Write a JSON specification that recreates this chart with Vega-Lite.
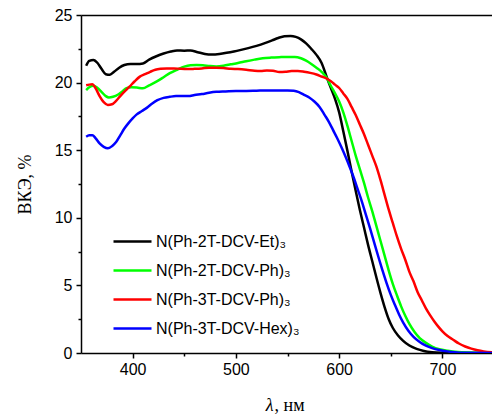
{
  "$schema": "https://vega.github.io/schema/vega-lite/v6.json",
  "width": 411,
  "height": 338,
  "autosize": {"type": "none"},
  "padding": {"left": 81, "top": 15, "right": 0, "bottom": 63},
  "background": "white",
  "config": {"view": {"stroke": null}},
  "datasets": {
    "Et": [{"x":355,"y":21.25},{"x":358,"y":21.6},{"x":362,"y":21.67},{"x":366,"y":21.45},{"x":370,"y":21.0},{"x":374,"y":20.62},{"x":378,"y":20.58},{"x":382,"y":20.8},{"x":387,"y":21.1},{"x":392,"y":21.3},{"x":398,"y":21.38},{"x":404,"y":21.38},{"x":410,"y":21.42},{"x":416,"y":21.7},{"x":423,"y":21.95},{"x":430,"y":22.15},{"x":437,"y":22.3},{"x":443,"y":22.38},{"x":450,"y":22.36},{"x":456,"y":22.38},{"x":463,"y":22.25},{"x":470,"y":22.12},{"x":477,"y":22.08},{"x":484,"y":22.12},{"x":491,"y":22.2},{"x":498,"y":22.3},{"x":505,"y":22.42},{"x":512,"y":22.55},{"x":520,"y":22.72},{"x":528,"y":22.92},{"x":535,"y":23.12},{"x":541,"y":23.3},{"x":547,"y":23.43},{"x":553,"y":23.45},{"x":558,"y":23.38},{"x":563,"y":23.2},{"x":568,"y":22.9},{"x":573,"y":22.5},{"x":578,"y":22.05},{"x":583,"y":21.45},{"x":588,"y":20.4},{"x":592,"y":19.6},{"x":596,"y":18.8},{"x":600,"y":17.8},{"x":604,"y":16.4},{"x":608,"y":14.95},{"x":612,"y":13.45},{"x":616,"y":12.0},{"x":620,"y":10.6},{"x":624,"y":9.3},{"x":628,"y":8.0},{"x":632,"y":6.8},{"x":636,"y":5.6},{"x":640,"y":4.45},{"x":644,"y":3.4},{"x":648,"y":2.5},{"x":652,"y":1.85},{"x":657,"y":1.3},{"x":662,"y":0.9},{"x":668,"y":0.55},{"x":675,"y":0.3},{"x":682,"y":0.15},{"x":690,"y":0.06},{"x":700,"y":0.02},{"x":720,"y":0.0},{"x":748,"y":0.0}],
    "Ph2": [{"x":355,"y":19.45},{"x":358,"y":19.65},{"x":362,"y":19.77},{"x":366,"y":19.6},{"x":370,"y":19.3},{"x":374,"y":19.0},{"x":377,"y":18.9},{"x":381,"y":18.95},{"x":386,"y":19.12},{"x":390,"y":19.35},{"x":394,"y":19.58},{"x":399,"y":19.65},{"x":404,"y":19.63},{"x":410,"y":19.58},{"x":416,"y":19.8},{"x":423,"y":20.07},{"x":430,"y":20.4},{"x":436,"y":20.7},{"x":443,"y":20.95},{"x":450,"y":21.18},{"x":456,"y":21.28},{"x":462,"y":21.3},{"x":468,"y":21.28},{"x":475,"y":21.22},{"x":481,"y":21.2},{"x":488,"y":21.25},{"x":495,"y":21.35},{"x":502,"y":21.45},{"x":510,"y":21.58},{"x":518,"y":21.7},{"x":526,"y":21.8},{"x":534,"y":21.85},{"x":542,"y":21.88},{"x":550,"y":21.9},{"x":557,"y":21.9},{"x":563,"y":21.8},{"x":568,"y":21.62},{"x":573,"y":21.38},{"x":578,"y":21.1},{"x":583,"y":20.8},{"x":588,"y":20.35},{"x":592,"y":19.75},{"x":596,"y":19.2},{"x":600,"y":18.6},{"x":604,"y":17.8},{"x":608,"y":16.8},{"x":612,"y":15.7},{"x":616,"y":14.6},{"x":620,"y":13.6},{"x":624,"y":12.6},{"x":628,"y":11.5},{"x":632,"y":10.5},{"x":636,"y":9.4},{"x":640,"y":8.3},{"x":644,"y":7.2},{"x":648,"y":6.1},{"x":652,"y":5.1},{"x":656,"y":4.25},{"x":660,"y":3.45},{"x":664,"y":2.75},{"x":668,"y":2.15},{"x":673,"y":1.55},{"x":678,"y":1.1},{"x":684,"y":0.75},{"x":690,"y":0.48},{"x":697,"y":0.28},{"x":705,"y":0.17},{"x":715,"y":0.08},{"x":725,"y":0.04},{"x":735,"y":0.02},{"x":748,"y":0.0}],
    "Ph3": [{"x":355,"y":19.8},{"x":358,"y":19.85},{"x":361,"y":19.87},{"x":364,"y":19.6},{"x":368,"y":19.0},{"x":372,"y":18.55},{"x":376,"y":18.35},{"x":380,"y":18.4},{"x":384,"y":18.65},{"x":388,"y":19.0},{"x":393,"y":19.4},{"x":397,"y":19.7},{"x":402,"y":20.1},{"x":407,"y":20.44},{"x":412,"y":20.62},{"x":417,"y":20.8},{"x":422,"y":20.95},{"x":427,"y":21.02},{"x":433,"y":21.05},{"x":440,"y":21.05},{"x":446,"y":21.02},{"x":453,"y":21.0},{"x":460,"y":21.02},{"x":467,"y":21.05},{"x":474,"y":21.1},{"x":481,"y":21.1},{"x":488,"y":21.08},{"x":495,"y":21.02},{"x":502,"y":21.0},{"x":510,"y":20.95},{"x":518,"y":20.88},{"x":524,"y":20.86},{"x":530,"y":20.9},{"x":536,"y":20.88},{"x":542,"y":20.78},{"x":548,"y":20.8},{"x":554,"y":20.85},{"x":560,"y":20.85},{"x":566,"y":20.8},{"x":572,"y":20.72},{"x":578,"y":20.6},{"x":583,"y":20.45},{"x":588,"y":20.3},{"x":592,"y":20.1},{"x":596,"y":19.85},{"x":600,"y":19.6},{"x":604,"y":19.2},{"x":608,"y":18.8},{"x":612,"y":18.2},{"x":616,"y":17.6},{"x":620,"y":16.9},{"x":624,"y":16.2},{"x":628,"y":15.4},{"x":632,"y":14.6},{"x":636,"y":13.8},{"x":640,"y":12.8},{"x":644,"y":11.7},{"x":648,"y":10.6},{"x":652,"y":9.6},{"x":656,"y":8.6},{"x":660,"y":7.7},{"x":664,"y":6.9},{"x":668,"y":6.0},{"x":672,"y":5.3},{"x":676,"y":4.5},{"x":680,"y":3.9},{"x":684,"y":3.3},{"x":688,"y":2.8},{"x":692,"y":2.35},{"x":696,"y":1.95},{"x":700,"y":1.6},{"x":705,"y":1.25},{"x":710,"y":1.0},{"x":716,"y":0.7},{"x":722,"y":0.48},{"x":728,"y":0.32},{"x":734,"y":0.2},{"x":740,"y":0.12},{"x":748,"y":0.06}],
    "Hex": [{"x":355,"y":16.0},{"x":358,"y":16.1},{"x":361,"y":16.1},{"x":364,"y":15.9},{"x":368,"y":15.5},{"x":372,"y":15.25},{"x":376,"y":15.14},{"x":380,"y":15.3},{"x":384,"y":15.6},{"x":388,"y":16.1},{"x":392,"y":16.6},{"x":396,"y":17.0},{"x":400,"y":17.35},{"x":404,"y":17.65},{"x":409,"y":17.9},{"x":414,"y":18.15},{"x":419,"y":18.45},{"x":424,"y":18.7},{"x":430,"y":18.87},{"x":436,"y":18.95},{"x":442,"y":19.0},{"x":448,"y":19.0},{"x":454,"y":19.0},{"x":460,"y":19.08},{"x":467,"y":19.15},{"x":474,"y":19.25},{"x":481,"y":19.32},{"x":490,"y":19.35},{"x":500,"y":19.38},{"x":510,"y":19.38},{"x":520,"y":19.4},{"x":530,"y":19.42},{"x":540,"y":19.42},{"x":550,"y":19.42},{"x":556,"y":19.4},{"x":561,"y":19.3},{"x":566,"y":19.1},{"x":571,"y":18.9},{"x":576,"y":18.6},{"x":581,"y":18.2},{"x":586,"y":17.6},{"x":590,"y":17.1},{"x":594,"y":16.5},{"x":598,"y":15.9},{"x":602,"y":15.25},{"x":606,"y":14.55},{"x":610,"y":13.8},{"x":614,"y":13.0},{"x":618,"y":12.1},{"x":622,"y":11.2},{"x":626,"y":10.2},{"x":630,"y":9.2},{"x":634,"y":8.15},{"x":638,"y":7.1},{"x":642,"y":6.1},{"x":646,"y":5.15},{"x":650,"y":4.3},{"x":654,"y":3.55},{"x":658,"y":2.85},{"x":662,"y":2.25},{"x":667,"y":1.65},{"x":672,"y":1.2},{"x":678,"y":0.82},{"x":684,"y":0.55},{"x":690,"y":0.36},{"x":697,"y":0.22},{"x":705,"y":0.12},{"x":712,"y":0.06},{"x":720,"y":0.02},{"x":748,"y":0.0}]
  },
  "layer": [
    {
      "data": {"name": "Et"},
      "mark": {"type": "line", "strokeWidth": 2.5, "clip": true, "interpolate": "monotone"},
      "encoding": {
        "x": {"field": "x", "type": "quantitative", "scale": {"domain": [350, 748], "nice": false, "zero": false},
          "axis": {"orient": "bottom", "values": [400, 450, 500, 550, 600, 650, 700], "labelExpr": "datum.value % 100 === 0 ? datum.label : ''",
            "tickSize": {"condition": {"test": "datum.value % 100 === 0", "value": 5}, "value": 3},
            "grid": false, "domainColor": "black", "domainWidth": 1.5, "tickColor": "black", "tickWidth": 1.5,
            "labelFont": "Liberation Sans", "labelFontSize": 16, "labelColor": "black", "labelPadding": 3, "labelOverlap": false, "labelFlush": false,
            "title": "λ", "titleFont": "Liberation Serif", "titleFontStyle": "italic", "titleFontWeight": "normal", "titleFontSize": 18, "titleColor": "black",
            "titleX": 192, "titleY": 57, "titleAlign": "right", "titleBaseline": "alphabetic"}},
        "y": {"field": "y", "type": "quantitative", "scale": {"domain": [0, 25], "nice": false},
          "axis": {"values": [0, 2.5, 5, 7.5, 10, 12.5, 15, 17.5, 20, 22.5, 25], "labelExpr": "datum.value % 5 === 0 ? datum.label : ''",
            "tickSize": {"condition": {"test": "datum.value % 5 === 0", "value": 5}, "value": 3},
            "grid": false, "domainColor": "black", "domainWidth": 1.5, "tickColor": "black", "tickWidth": 1.5,
            "labelFont": "Liberation Sans", "labelFontSize": 16, "labelColor": "black", "labelPadding": 4, "labelOverlap": false,
            "title": "ВКЭ, %", "titleFont": "Liberation Serif", "titleFontWeight": "normal", "titleFontSize": 18, "titleColor": "black",
            "titleX": -51, "titleY": 169, "titleAngle": -90, "titleAlign": "center", "titleBaseline": "alphabetic"}},
        "color": {"datum": "N(Ph-2T-DCV-Et)₃", "type": "nominal",
          "scale": {"domain": ["N(Ph-2T-DCV-Et)₃", "N(Ph-2T-DCV-Ph)₃", "N(Ph-3T-DCV-Ph)₃", "N(Ph-3T-DCV-Hex)₃"], "range": ["#000000", "#00ff00", "#ff0000", "#0000ff"]},
          "legend": {"orient": "none", "legendX": 31, "legendY": 206, "title": null, "padding": 0,
            "symbolType": "stroke", "symbolSize": 1444, "symbolStrokeWidth": 2.5,
            "labelFont": "Liberation Sans", "labelFontSize": 16, "labelColor": "black", "labelOffset": 3, "labelLimit": 300, "rowPadding": -10.5}}
      }
    },
    {
      "data": {"name": "Ph2"},
      "mark": {"type": "line", "strokeWidth": 2.5, "clip": true, "interpolate": "monotone"},
      "encoding": {
        "x": {"field": "x", "type": "quantitative", "axis": {"orient": "bottom", "domain": false, "ticks": false, "labels": false, "grid": false,
          "title": ", нм", "titleFont": "Liberation Serif", "titleFontWeight": "normal", "titleFontSize": 18, "titleColor": "black",
          "titleX": 193, "titleY": 57, "titleAlign": "left", "titleBaseline": "alphabetic"}},
        "y": {"field": "y", "type": "quantitative", "axis": null},
        "color": {"datum": "N(Ph-2T-DCV-Ph)₃", "type": "nominal"}
      }
    },
    {
      "data": {"name": "Ph3"},
      "mark": {"type": "line", "strokeWidth": 2.5, "clip": true, "interpolate": "monotone"},
      "encoding": {
        "x": {"field": "x", "type": "quantitative", "axis": {"orient": "top", "domain": true, "domainColor": "black", "domainWidth": 1.5, "ticks": false, "labels": false, "grid": false, "title": null}},
        "y": {"field": "y", "type": "quantitative", "axis": null},
        "color": {"datum": "N(Ph-3T-DCV-Ph)₃", "type": "nominal"}
      }
    },
    {
      "data": {"name": "Hex"},
      "mark": {"type": "line", "strokeWidth": 2.5, "clip": true, "interpolate": "monotone"},
      "encoding": {
        "x": {"field": "x", "type": "quantitative", "axis": null},
        "y": {"field": "y", "type": "quantitative", "axis": null},
        "color": {"datum": "N(Ph-3T-DCV-Hex)₃", "type": "nominal"}
      }
    }
  ],
  "resolve": {"axis": {"x": "independent", "y": "independent"}}
}
